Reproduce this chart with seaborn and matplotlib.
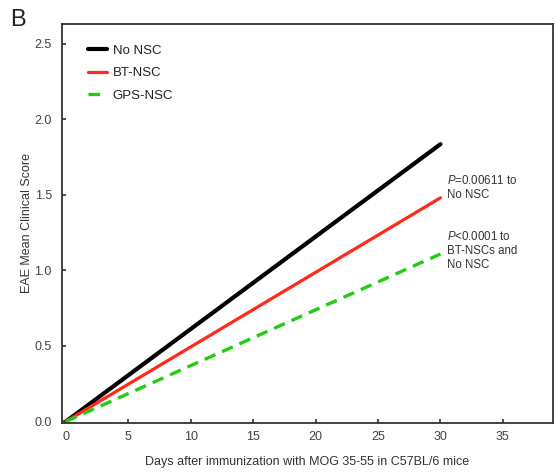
import pandas as pd
import numpy as np
import seaborn as sns
import matplotlib
matplotlib.use("Agg")
import matplotlib.pyplot as plt

sns.set_style("ticks")
plt.rcParams['font.family'] = ['Liberation Sans', 'DejaVu Sans']
plt.rcParams['mathtext.fontset'] = 'custom'
plt.rcParams['mathtext.it'] = 'Liberation Sans:italic'
plt.rcParams['mathtext.rm'] = 'Liberation Sans'

# data
days = [0, 30]
no_nsc = [0.0, 1.835]
bt_nsc = [0.0, 1.48]
gps_nsc = [0.0, 1.108]
groups = ["No NSC", "BT-NSC", "GPS-NSC"]

df = pd.DataFrame({
    "day": days * 3,
    "score": no_nsc + bt_nsc + gps_nsc,
    "group": [groups[0]] * 2 + [groups[1]] * 2 + [groups[2]] * 2,
})

fig = plt.figure(figsize=(5.55, 4.72), dpi=100)
ax = fig.add_axes([0.111, 0.104, 0.885, 0.845])

pal = {"No NSC": "#000000", "BT-NSC": "#ff2a1a", "GPS-NSC": "#22cc11"}
widths = {"No NSC": 3.0, "BT-NSC": 2.3, "GPS-NSC": 2.4}
for g in groups:
    sub = df[df["group"] == g]
    sns.lineplot(data=sub, x="day", y="score", color=pal[g], lw=widths[g],
                 ls=(0, (3.5, 2.2)) if g == "GPS-NSC" else "-", label=g, ax=ax)

ax.set_xlim(-0.35, 39)
ax.set_ylim(-0.01, 2.63)
ax.set_xticks(range(0, 36, 5))
ax.set_yticks([0, 0.5, 1.0, 1.5, 2.0, 2.5])
ax.set_yticklabels(["0.0", "0.5", "1.0", "1.5", "2.0", "2.5"])
ax.tick_params(direction="in", length=3, width=1.2, labelsize=9, colors="#333333",
               labelcolor="#444444")
ax.tick_params(axis="x", pad=6)
ax.tick_params(axis="y", pad=7)
for s in ax.spines.values():
    s.set_linewidth(1.3)
    s.set_color("#333333")

ax.set_xlabel("Days after immunization with MOG 35-55 in C57BL/6 mice", fontsize=9,
              color="#333333", labelpad=9)
ax.set_ylabel("EAE Mean Clinical Score", fontsize=9, color="#333333", labelpad=1)

leg = ax.legend(loc="upper left", frameon=False, fontsize=9.5, handlelength=1.45,
                handletextpad=0.4, labelspacing=0.78, bbox_to_anchor=(0.03, 0.978))
for t in leg.get_texts():
    t.set_color("#222222")

ax.text(30.55, 1.635, "$P$=0.00611 to\nNo NSC", fontsize=8.3, color="#333333",
        va="top", linespacing=1.2)
ax.text(30.55, 1.265, "$P$<0.0001 to\nBT-NSCs and\nNo NSC", fontsize=8.3, color="#333333",
        va="top", linespacing=1.2)

fig.text(0.018, 0.945, "B", fontsize=17, color="#222222")

fig.savefig("out.png", dpi=100)
